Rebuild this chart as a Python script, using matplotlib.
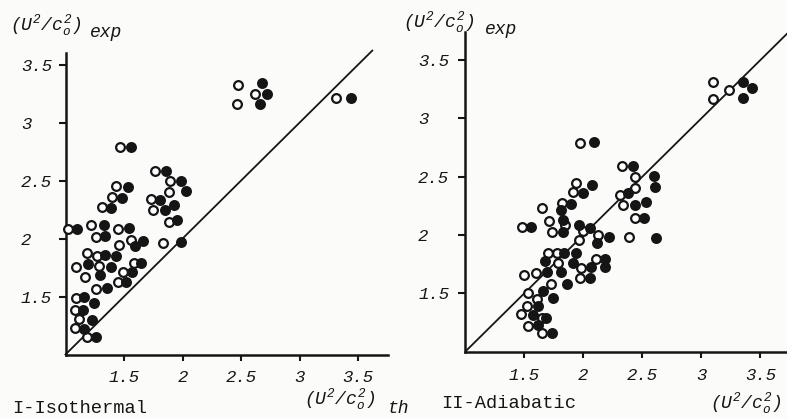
import matplotlib
matplotlib.use("Agg")
import matplotlib.pyplot as plt

plt.rcParams['mathtext.fontset'] = 'custom'
plt.rcParams['mathtext.rm'] = 'Liberation Mono:italic'
plt.rcParams['mathtext.it'] = 'Liberation Mono:italic'

INK = '#151515'
BG = '#fbfbfa'

# ---- Panel I : Isothermal ----
iso_open_x = [1.466, 1.765, 1.893, 1.43, 1.887, 1.40, 1.73, 1.75, 1.31, 1.887, 1.02, 1.22, 1.45,
              1.26, 1.457, 1.557, 1.83, 1.186, 1.267, 1.092, 1.289, 1.585, 1.494, 1.446, 1.258,
              1.167, 1.09, 1.081, 1.115, 1.081, 1.186, 2.472, 2.463, 2.62, 3.31]
iso_open_y = [2.79, 2.585, 2.50, 2.45, 2.40, 2.36, 2.34, 2.25, 2.27, 2.145, 2.08, 2.12, 2.08,
              2.015, 1.944, 1.987, 1.96, 1.872, 1.849, 1.757, 1.76, 1.786, 1.714, 1.628, 1.562,
              1.67, 1.49, 1.384, 1.303, 1.226, 1.155, 3.323, 3.157, 3.25, 3.214]
iso_fill_x = [1.56, 1.86, 1.99, 1.53, 2.03, 1.48, 1.81, 1.85, 1.93, 1.39, 1.95, 1.10, 1.33, 1.54,
              1.34, 1.594, 1.665, 1.99, 1.338, 1.43, 1.195, 1.295, 1.386, 1.645, 1.566, 1.517,
              1.352, 1.16, 1.153, 1.246, 1.224, 1.16, 1.263, 2.677, 2.725, 2.662, 3.44]
iso_fill_y = [2.79, 2.585, 2.50, 2.44, 2.41, 2.35, 2.33, 2.25, 2.29, 2.26, 2.16, 2.08, 2.12, 2.09,
              2.02, 1.935, 1.98, 1.97, 1.856, 1.85, 1.777, 1.685, 1.757, 1.786, 1.714, 1.628,
              1.576, 1.50, 1.384, 1.44, 1.30, 1.22, 1.155, 3.338, 3.25, 3.157, 3.214]

# ---- Panel II : Adiabatic ----
adi_open_x = [1.972, 2.325, 2.438, 2.438, 1.94, 1.91, 2.31, 2.34, 2.438, 1.82, 1.647, 1.478, 1.712,
              1.732, 1.845, 2.0, 2.127, 2.39, 1.96, 1.703, 1.775, 1.788, 1.98, 1.972, 2.108, 1.5,
              1.599, 1.726, 1.534, 1.61, 1.52, 1.472, 1.647, 1.534, 1.647, 3.10, 3.096, 3.235]
adi_open_y = [2.786, 2.59, 2.50, 2.406, 2.443, 2.37, 2.343, 2.257, 2.148, 2.277, 2.234, 2.07, 2.12,
              2.03, 2.086, 2.037, 2.0, 1.98, 1.957, 1.848, 1.848, 1.757, 1.714, 1.634, 1.79, 1.657,
              1.672, 1.58, 1.505, 1.449, 1.39, 1.32, 1.286, 1.22, 1.157, 3.31, 3.166, 3.245]
adi_fill_x = [2.093, 2.419, 2.60, 2.608, 2.07, 2.0, 2.38, 2.438, 2.529, 2.514, 1.896, 1.81, 1.554,
              1.83, 1.83, 1.966, 2.057, 2.119, 2.22, 2.614, 1.836, 1.936, 1.675, 1.808, 1.91, 2.057,
              2.063, 1.859, 2.184, 2.184, 1.69, 1.66, 1.746, 1.619, 1.576, 1.684, 1.619, 1.732,
              3.355, 3.427, 3.355]
adi_fill_y = [2.80, 2.594, 2.51, 2.414, 2.43, 2.36, 2.36, 2.257, 2.28, 2.148, 2.266, 2.214, 2.07,
              2.13, 2.03, 2.086, 2.057, 1.929, 1.98, 1.972, 1.843, 1.848, 1.777, 1.685, 1.762, 1.634,
              1.723, 1.577, 1.79, 1.723, 1.685, 1.52, 1.462, 1.39, 1.314, 1.286, 1.228, 1.157,
              3.31, 3.263, 3.172]

ticks = [1.5, 2, 2.5, 3, 3.5]
tick_labels = ['1.5', '2', '2.5', '3', '3.5']
diag_left = [1.0, 3.62]
diag_right = [1.0, 3.8]

fig = plt.figure(figsize=(7.87, 4.19), dpi=100, facecolor=BG)

def style(ax, xmax, ymax, ypad):
    ax.set_facecolor(BG)
    ax.set_xlim(1, xmax)
    ax.set_ylim(1, ymax)
    for s in ['top', 'right']:
        ax.spines[s].set_visible(False)
    for s in ['left', 'bottom']:
        ax.spines[s].set_linewidth(1.8)
        ax.spines[s].set_color(INK)
    ax.set_xticks(ticks)
    ax.set_xticklabels(tick_labels, family='Liberation Mono', style='italic',
                       fontsize=12.5, color=INK)
    ax.set_yticks(ticks)
    ax.set_yticklabels(tick_labels, family='Liberation Mono', style='italic',
                       fontsize=12.5, color=INK)
    ax.tick_params(axis='x', direction='out', length=4.5, width=1.5, pad=7, colors=INK)
    ax.tick_params(axis='y', direction='out', length=5, width=1.5, pad=ypad, colors=INK)
    for lab in ax.get_yticklabels():
        lab.set_horizontalalignment('left')

def points(ax, ox, oy, fx, fy):
    ax.plot(ox, oy, 'o', ms=6.3, mfc='white', mec=INK, mew=1.6, ls='none', clip_on=False, zorder=3)
    ax.plot(fx, fy, 'o', ms=6.3, mfc=INK, mec=INK, mew=1.6, ls='none', clip_on=False, zorder=3)

# Left panel
ax1 = fig.add_axes([65.5/787, 64.5/419, 322/787, 301/419])
style(ax1, 3.75, 3.595, 27)
ax1.plot(diag_left, diag_left, color=INK, lw=1.3, clip_on=False, zorder=2)
points(ax1, iso_open_x, iso_open_y, iso_fill_x, iso_fill_y)

# Right panel
ax2 = fig.add_axes([465.3/787, 67.4/419, 321.7/787, 319.6/419])
style(ax2, 3.726, 3.741, 29)
ax2.plot(diag_right, diag_right, color=INK, lw=1.3, clip_on=True, zorder=2)
points(ax2, adi_open_x, adi_open_y, adi_fill_x, adi_fill_y)

lab_kw = dict(color=INK, fontsize=13)
W, H = 787, 419
def ftext(px, py, s, **kw):
    d = dict(lab_kw); d.update(kw)
    fig.text(px / W, 1 - py / H, s, va='baseline', ha='left', **d)

# y-axis labels
ftext(10, 30, r'$(U^2/c_o^2)$')
ftext(90, 37, 'exp', family='Liberation Mono', style='italic')
ftext(403, 27, r'$(U^2/c_o^2)$')
ftext(485, 34, 'exp', family='Liberation Mono', style='italic')

# x-axis labels
ftext(304, 404, r'$(U^2/c_o^2)$')
ftext(388, 413, 'th', family='Liberation Mono', style='italic')
ftext(710, 408, r'$(U^2/c_o^2)$')

# panel titles
ftext(12, 413, 'I-Isothermal', family='Liberation Mono', fontsize=13.5)
ftext(441, 408, 'II-Adiabatic', family='Liberation Mono', fontsize=13.5)

fig.savefig('out.png', dpi=100, facecolor=BG)
